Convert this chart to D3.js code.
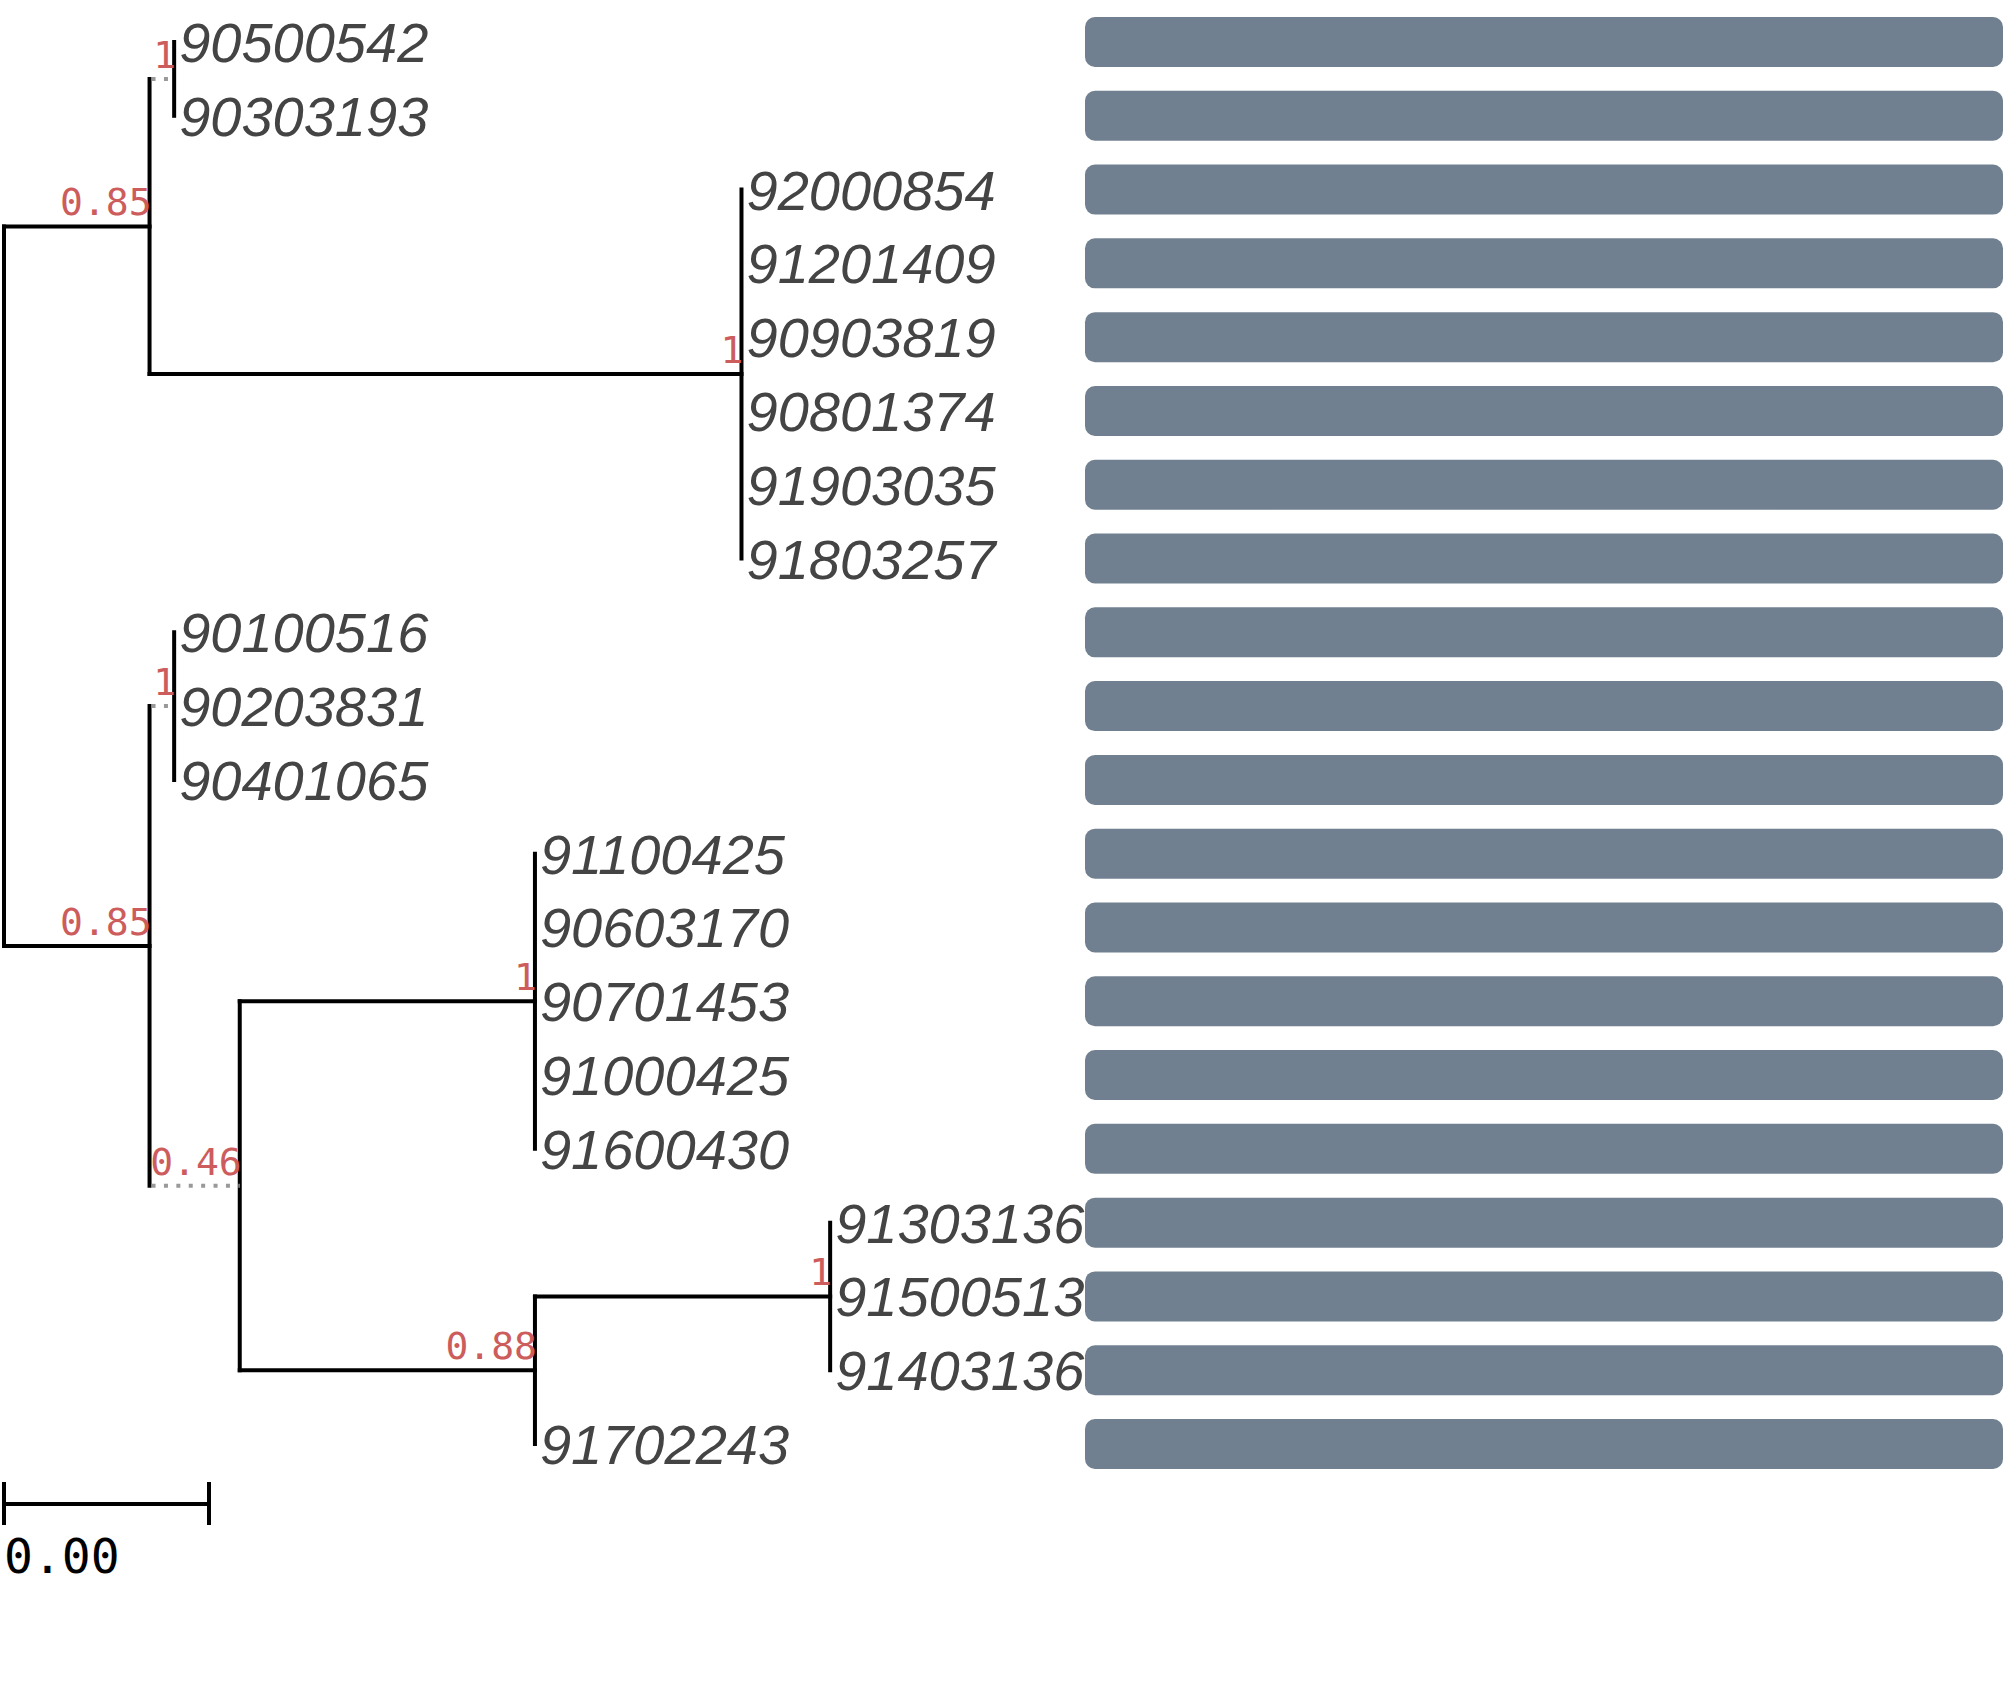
<!DOCTYPE html>
<html>
<head>
<meta charset="utf-8">
<script src="https://cdn.jsdelivr.net/npm/d3@7"></script>
<style>
  body { margin: 0; background: #fff; }
</style>
</head>
<body>
<div id="chart"></div>
<script>
const width = 2007, height = 1688;

// tips, top to bottom
const tipLabels = ["90500542", "90303193", "92000854", "91201409", "90903819", "90801374",
    "91903035", "91803257", "90100516", "90203831", "90401065", "91100425", "90603170",
    "90701453", "91000425", "91600430", "91303136", "91500513", "91403136", "91702243"];
const tipParents = ["n1", "n1", "B", "B", "B", "B", "B", "B", "D", "D", "D",
    "F", "F", "F", "F", "F", "H", "H", "H", "G"];

// internal nodes
const nodeIds = ["root", "A", "n1", "B", "C", "D", "E", "F", "G", "H"];
const nodeParents = [null, "root", "A", "A", "root", "C", "C", "E", "E", "G"];
const branchLengths = [0, 0.00284, 0.00048, 0.01155, 0.00284, 0.00048, 0.00176, 0.00576, 0.00576, 0.00576];
const supports = ["", "0.85", "1", "1", "0.85", "1", "0.46", "1", "0.88", "1"];
const dottedBranch = ["n1", "D", "E"];

// bars next to tips
const barValues = tipLabels.map(() => 1);

const scaleBarLength = 0.004;
const scaleBarLabel = "0.00";

const svg = d3.select("#chart").append("svg")
    .attr("width", width)
    .attr("height", height);

const x = d3.scaleLinear().domain([0, scaleBarLength]).range([4, 209]);
const y = d3.scaleLinear().domain([0, tipLabels.length - 1]).range([42, 1444]);
const barX = d3.scaleLinear().domain([0, 1]).range([1085, 2003]);

// build the tree
const nodes = {};
nodeIds.forEach((id, i) => {
    nodes[id] = {id: id, parent: nodeParents[i], len: branchLengths[i], support: supports[i], children: [], tip: false};
});
tipLabels.forEach((lab, i) => {
    nodes[lab] = {id: lab, parent: tipParents[i], len: 0, children: [], tip: true, row: i};
});
Object.values(nodes).forEach(n => { if (n.parent) nodes[n.parent].children.push(n); });

function layout(n, depth) {
    n.depth = depth + n.len;
    n.children.forEach(c => layout(c, n.depth));
    if (n.tip) n.y = y(n.row);
    else n.y = d3.mean(n.children, c => c.y);
    n.x = x(n.depth);
}
layout(nodes.root, 0);

const all = Object.values(nodes);
const internal = all.filter(n => !n.tip);

// vertical connectors
svg.append("g").selectAll("line")
    .data(internal)
    .enter().append("line")
    .attr("x1", d => d.x).attr("x2", d => d.x)
    .attr("y1", d => d3.min(d.children, c => c.y))
    .attr("y2", d => d3.max(d.children, c => c.y))
    .attr("stroke", "#000")
    .attr("stroke-width", 4)
    .attr("stroke-linecap", "square");

// horizontal branches
const branches = all.filter(n => n.parent && n.len > 0);
svg.append("g").selectAll("line")
    .data(branches)
    .enter().append("line")
    .attr("x1", d => nodes[d.parent].x + (dottedBranch.includes(d.id) ? 2 : 0))
    .attr("x2", d => d.x)
    .attr("y1", d => d.y).attr("y2", d => d.y)
    .attr("stroke", d => dottedBranch.includes(d.id) ? "#999" : "#000")
    .attr("stroke-width", 4)
    .attr("stroke-dasharray", d => dottedBranch.includes(d.id) ? "4,8.4" : null)
    .attr("stroke-linecap", d => dottedBranch.includes(d.id) ? "butt" : "square");

// tip labels
const tips = all.filter(n => n.tip);
svg.append("g").selectAll("text")
    .data(tips)
    .enter().append("text")
    .attr("x", d => d.x + 5)
    .attr("y", d => d.y + 20)
    .attr("font-family", "Liberation Sans, Arial, sans-serif")
    .attr("font-style", "italic")
    .attr("font-size", 56)
    .attr("fill", "#444")
    .text(d => d.id);

// support values
svg.append("g").selectAll("text")
    .data(internal.filter(d => d.support))
    .enter().append("text")
    .attr("x", d => d.x + 2)
    .attr("y", d => d.y - 11)
    .attr("text-anchor", "end")
    .attr("font-family", "DejaVu Sans Mono, monospace")
    .attr("font-size", 38)
    .attr("fill", "#cd5c5c")
    .text(d => d.support);

// bars
svg.append("g").selectAll("rect")
    .data(barValues)
    .enter().append("rect")
    .attr("x", barX(0))
    .attr("y", (d, i) => y(i) - 25)
    .attr("width", d => barX(d) - barX(0))
    .attr("height", 50)
    .attr("rx", 10).attr("ry", 10)
    .attr("fill", "#708090");

// scale bar
const sb = svg.append("g");
sb.append("line")
    .attr("x1", x(0)).attr("x2", x(scaleBarLength))
    .attr("y1", 1504).attr("y2", 1504)
    .attr("stroke", "#000").attr("stroke-width", 4);
[0, scaleBarLength].forEach(v => {
    sb.append("line")
        .attr("x1", x(v)).attr("x2", x(v))
        .attr("y1", 1482).attr("y2", 1525)
        .attr("stroke", "#000").attr("stroke-width", 4);
});
sb.append("text")
    .attr("x", x(0))
    .attr("y", 1573)
    .attr("font-family", "DejaVu Sans Mono, monospace")
    .attr("font-size", 48)
    .attr("fill", "#000")
    .text(scaleBarLabel);
</script>
</body>
</html>
